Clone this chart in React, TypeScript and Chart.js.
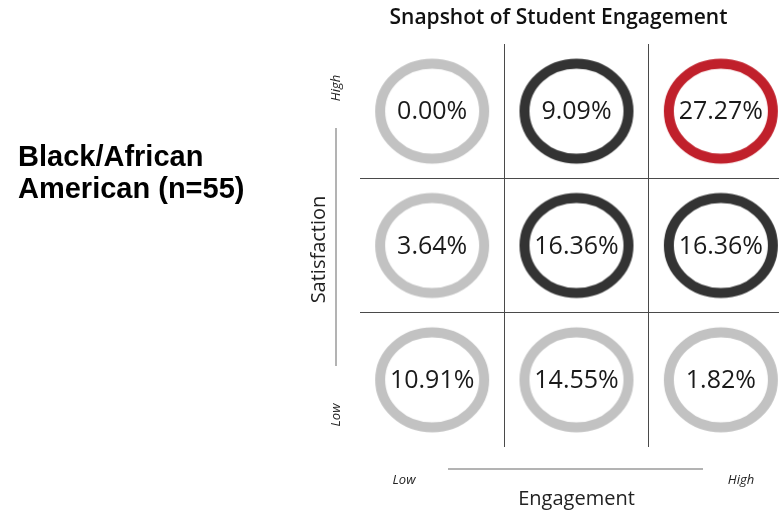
import React, { useEffect, useRef } from 'react';
import { Chart, registerables } from 'chart.js';

Chart.register(...registerables);

// ---- data ----
const chartTitle = 'Snapshot of Student Engagement';
const groupLabelLines = ['Black/African', 'American (n=55)'];
const xAxisTitle = 'Engagement';
const yAxisTitle = 'Satisfaction';
const lowLabel = 'Low';
const highLabel = 'High';

// engagement column (0 = Low, 2 = High), satisfaction row (0 = Low, 2 = High)
const cellEngagement = [0, 1, 2, 0, 1, 2, 0, 1, 2];
const cellSatisfaction = [2, 2, 2, 1, 1, 1, 0, 0, 0];
const cellPercent = [0.0, 9.09, 27.27, 3.64, 16.36, 16.36, 10.91, 14.55, 1.82];
const cellTone = ['light', 'dark', 'red', 'light', 'dark', 'dark', 'light', 'light', 'light'];

const toneColors: Record<string, string> = {
  light: '#c2c2c2',
  dark: '#333333',
  red: '#c0202b',
};

function makeRing(color: string): HTMLCanvasElement {
  const c = document.createElement('canvas');
  c.width = 120;
  c.height = 110;
  const g = c.getContext('2d')!;
  g.strokeStyle = color;
  g.lineWidth = 10;
  g.beginPath();
  g.ellipse(60, 55, 52, 47.5, 0, 0, Math.PI * 2);
  g.stroke();
  return c;
}

const annotations = {
  id: 'annotations',
  afterDatasetsDraw(chart: any) {
    const ctx = chart.ctx;
    const meta = chart.getDatasetMeta(0);
    ctx.save();
    ctx.fillStyle = '#1a1a1a';
    ctx.font = '400 25px "Open Sans", "Noto Sans", sans-serif';
    ctx.textAlign = 'center';
    ctx.textBaseline = 'middle';
    meta.data.forEach((pt: any, i: number) => {
      ctx.fillText(cellPercent[i].toFixed(2) + '%', pt.x, pt.y + 1);
    });
    ctx.restore();
  },
  afterDraw(chart: any) {
    const ctx = chart.ctx;
    const { x, y } = chart.scales;
    const cx = x.getPixelForValue(1);
    ctx.save();
    // title
    ctx.fillStyle = '#111';
    ctx.textAlign = 'center';
    ctx.textBaseline = 'alphabetic';
    ctx.font = '600 21px "Open Sans", "Noto Sans", sans-serif';
    ctx.fillText(chartTitle, cx - 18, 24);

    // group label
    ctx.textAlign = 'left';
    ctx.font = 'bold 29px "Liberation Sans", Arial, sans-serif';
    ctx.fillStyle = '#000';
    ctx.fillText(groupLabelLines[0], 18, 166);
    ctx.fillText(groupLabelLines[1], 18, 198);

    // y axis line + labels
    const yAxisX = x.left - 24;
    ctx.strokeStyle = '#9a9a9a';
    ctx.lineWidth = 1.5;
    ctx.beginPath();
    ctx.moveTo(yAxisX, 128);
    ctx.lineTo(yAxisX, 366);
    ctx.stroke();

    ctx.fillStyle = '#222';
    ctx.textAlign = 'center';
    ctx.textBaseline = 'middle';
    ctx.save();
    ctx.translate(yAxisX - 17, (y.top + y.bottom) / 2 + 4);
    ctx.rotate(-Math.PI / 2);
    ctx.font = '20px "Open Sans", "Noto Sans", sans-serif';
    ctx.fillText(yAxisTitle, 0, 0);
    ctx.restore();

    ctx.font = 'italic 13px "Open Sans", "Noto Sans", sans-serif';
    ctx.save();
    ctx.translate(yAxisX, 88);
    ctx.rotate(-Math.PI / 2);
    ctx.fillText(highLabel, 0, 0);
    ctx.restore();
    ctx.save();
    ctx.translate(yAxisX, 415);
    ctx.rotate(-Math.PI / 2);
    ctx.fillText(lowLabel, 0, 0);
    ctx.restore();

    // x axis line + labels
    const xAxisY = y.bottom + 22;
    ctx.beginPath();
    ctx.moveTo(448, xAxisY);
    ctx.lineTo(703, xAxisY);
    ctx.stroke();
    ctx.fillText(lowLabel, 404, xAxisY + 11);
    ctx.fillText(highLabel, 741, xAxisY + 11);
    ctx.font = '20px "Open Sans", "Noto Sans", sans-serif';
    ctx.fillText(xAxisTitle, cx, xAxisY + 30);
    ctx.restore();
  },
};

export default function App() {
  const ref = useRef<HTMLCanvasElement>(null);
  useEffect(() => {
    if (!ref.current) return;
    const rings: Record<string, HTMLCanvasElement> = {};
    Object.keys(toneColors).forEach((k) => (rings[k] = makeRing(toneColors[k])));
    const points = cellPercent.map((_, i) => ({ x: cellEngagement[i], y: cellSatisfaction[i] }));
    const gridCfg = {
      color: '#4a4a4a',
      lineWidth: 1,
      drawTicks: false,
    };
    const chart = new Chart(ref.current, {
      type: 'scatter',
      data: {
        datasets: [
          {
            data: points,
            pointStyle: cellTone.map((t) => rings[t]) as any,
            clip: false as any,
            pointRadius: 50,
          },
        ],
      },
      options: {
        animation: false,
        responsive: false,
        devicePixelRatio: 1,
        layout: { autoPadding: false, padding: { left: 360, top: 44, right: 0, bottom: 68 } },
        plugins: { legend: { display: false }, tooltip: { enabled: false }, title: { display: false } },
        events: [],
        scales: {
          x: {
            type: 'linear',
            min: -0.5,
            max: 2.5,
            afterBuildTicks: (s: any) => {
              s.ticks = [{ value: 0.5 }, { value: 1.5 }];
            },
            ticks: { display: false },
            grid: gridCfg,
            border: { display: false },
          },
          y: {
            type: 'linear',
            min: -0.5,
            max: 2.5,
            afterBuildTicks: (s: any) => {
              s.ticks = [{ value: 0.5 }, { value: 1.5 }];
            },
            ticks: { display: false },
            grid: gridCfg,
            border: { display: false },
          },
        },
      },
      plugins: [annotations],
    });
    return () => chart.destroy();
  }, []);
  return (
    <div
      style={{
        position: 'fixed',
        left: 0,
        top: 0,
        width: 779,
        height: 515,
        overflow: 'hidden',
        background: '#fff',
      }}
    >
      <canvas ref={ref} width={793} height={515} style={{ width: 793, height: 515, display: 'block' }} />
    </div>
  );
}
